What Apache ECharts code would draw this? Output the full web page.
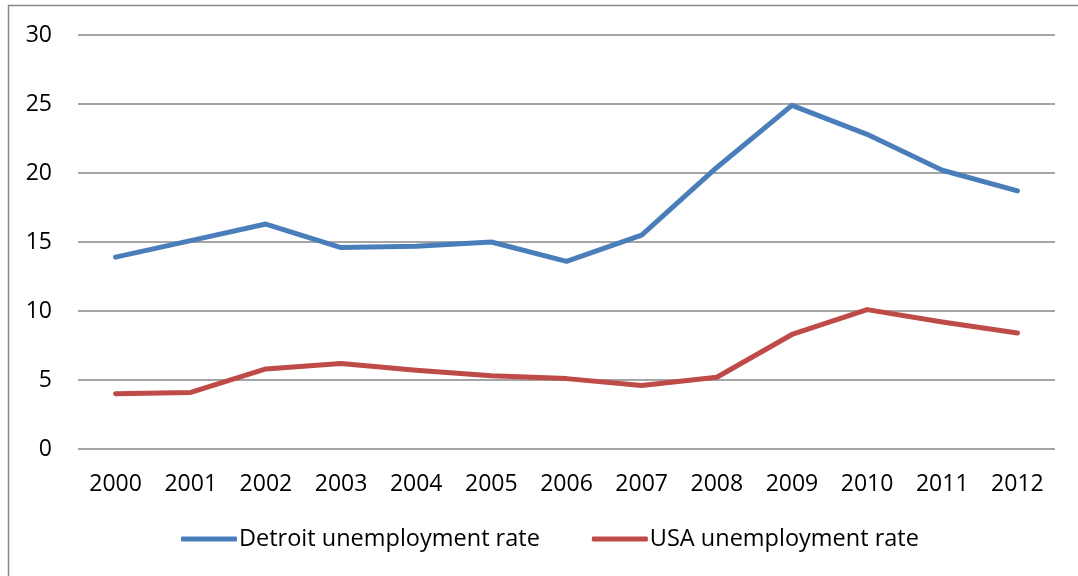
<!DOCTYPE html>
<html>
<head>
<meta charset="utf-8">
<script src="https://cdn.jsdelivr.net/npm/echarts@6/dist/echarts.min.js"></script>
<style>
html,body{margin:0;padding:0;background:#fff;}
#c{width:1078px;height:576px;}
</style>
</head>
<body>
<div id="c"></div>
<script>
const years = ['2000','2001','2002','2003','2004','2005','2006','2007','2008','2009','2010','2011','2012'];
const detroit = [13.9, 15.1, 16.3, 14.6, 14.7, 15.0, 13.6, 15.5, 20.4, 24.9, 22.8, 20.2, 18.7];
const usa = [4.0, 4.1, 5.8, 6.2, 5.7, 5.3, 5.1, 4.6, 5.2, 8.3, 10.1, 9.2, 8.4];
const seriesNames = ['Detroit unemployment rate', 'USA unemployment rate'];
const colors = ['#4A7EBB', '#BE4B48'];

const font = 'Open Sans';
const chart = echarts.init(document.getElementById('c'));
chart.setOption({
  animation: false,
  backgroundColor: '#fff',
  textStyle: { fontFamily: font },
  graphic: [{
    type: 'rect',
    shape: { x: 8.5, y: 5.5, width: 1200, height: 700 },
    style: { fill: 'none', stroke: '#898989', lineWidth: 1.5 },
    silent: true, z: -1
  }],
  grid: { left: 78, right: 23, top: 35, bottom: 127, containLabel: false },
  legend: {
    bottom: 20,
    left: 176,
    itemWidth: 56,
    itemHeight: 5,
    itemGap: 52,
    icon: 'roundRect',
    textStyle: { fontFamily: font, fontSize: 23.5, color: '#000', padding: [0, 0, 0, -3] },
    data: seriesNames
  },
  xAxis: {
    type: 'category',
    data: years,
    boundaryGap: true,
    axisLine: { show: false },
    axisTick: { show: false },
    axisLabel: { fontFamily: font, fontSize: 23, color: '#000', margin: 24 }
  },
  yAxis: {
    type: 'value',
    min: 0, max: 30, interval: 5,
    axisLine: { show: false },
    axisTick: { show: false },
    axisLabel: { fontFamily: font, fontSize: 23, color: '#000', margin: 26 },
    splitLine: { lineStyle: { color: '#878787', width: 1.5 } }
  },
  series: [
    {
      name: seriesNames[0], type: 'line', data: detroit,
      symbol: 'none', color: colors[0],
      lineStyle: { width: 5, color: colors[0], cap: 'round', join: 'round' }
    },
    {
      name: seriesNames[1], type: 'line', data: usa,
      symbol: 'none', color: colors[1],
      lineStyle: { width: 5, color: colors[1], cap: 'round', join: 'round' }
    }
  ]
});
</script>
</body>
</html>
